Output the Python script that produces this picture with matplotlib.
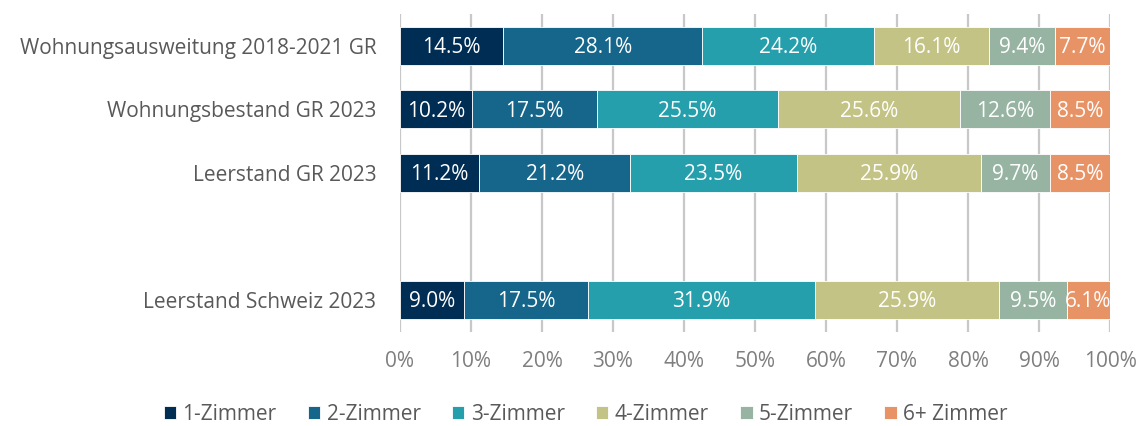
import numpy as np
import matplotlib.pyplot as plt

plt.rcParams['font.family'] = ['Open Sans', 'DejaVu Sans']

categories = ["Wohnungsausweitung 2018-2021 GR", "Wohnungsbestand GR 2023",
              "Leerstand GR 2023", "", "Leerstand Schweiz 2023"]
series_names = ["1-Zimmer", "2-Zimmer", "3-Zimmer", "4-Zimmer", "5-Zimmer", "6+ Zimmer"]
# rows: categories (empty row is a spacer), columns: series
values = [
    [14.5, 28.1, 24.2, 16.1, 9.4, 7.7],
    [10.2, 17.5, 25.5, 25.6, 12.6, 8.5],
    [11.2, 21.2, 23.5, 25.9, 9.7, 8.5],
    None,
    [9.0, 17.5, 31.9, 25.9, 9.5, 6.1],
]
colors = ["#002d54", "#16658a", "#269fac", "#c3c386", "#97b4a2", "#e89366"]
xticks = list(range(0, 101, 10))

fig = plt.figure(figsize=(11.46, 4.26), dpi=100)
ax = fig.add_axes([0.349, 0.221, 0.6196, 0.746])

for i, row in enumerate(values):
    if row is None:
        continue
    left = 0.0
    total = sum(row)
    for j, v in enumerate(row):
        w = v / total * 100
        ax.barh(i, w, left=left, height=0.6, color=colors[j],
                edgecolor="white", linewidth=0.6, zorder=3,
                label=series_names[j] if i == 0 else None)
        ax.text(left + w / 2, i + 0.03, f"{v:.1f}%", ha="center", va="center",
                color="white", fontsize=15, zorder=4)
        left += w

ax.set_xlim(0, 100)
ax.set_ylim(4.5, -0.5)
ax.set_yticks(range(len(categories)))
ax.set_yticklabels(categories, fontsize=15, color="#595959")
ax.set_xticks(xticks)
ax.set_xticklabels([f"{t}%" for t in xticks], fontsize=15, color="#7f7f7f")
ax.tick_params(axis="both", length=0)
ax.tick_params(axis="x", pad=14)
ax.tick_params(axis="y", pad=17)
ax.xaxis.grid(True, color="#c8c8c8", linewidth=1.6, zorder=0)
for s in ax.spines.values():
    s.set_visible(False)

handles, labels = ax.get_legend_handles_labels()
fig.legend(handles, labels, loc="center", bbox_to_anchor=(0.511, 0.028),
           ncol=6, frameon=False, fontsize=15, handlelength=0.6,
           handleheight=0.6, handletextpad=0.3, columnspacing=1.5,
           labelcolor="#595959")

fig.savefig("out.png", dpi=100)
